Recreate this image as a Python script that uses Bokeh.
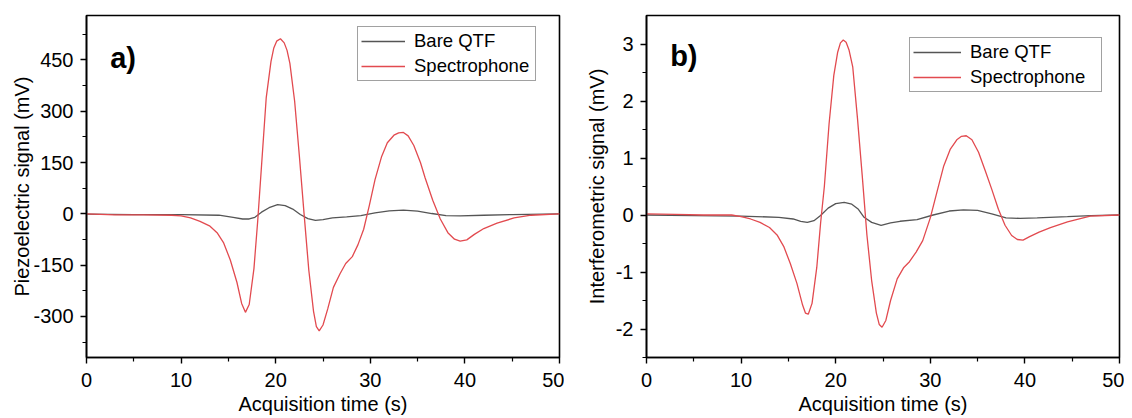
from bokeh.plotting import figure
from bokeh.models import Legend, LegendItem, FixedTicker, Label, Range1d, CustomJSTickFormatter
from bokeh.layouts import row
from bokeh.embed import file_html
from bokeh.resources import INLINE

# ---------------- data ----------------
# panel a) piezoelectric signal (mV)
a_spec_t = [0, 3, 6, 9, 10, 11, 12, 13, 13.8, 14.5, 15.2, 15.9, 16.4, 16.8, 17.2, 17.7,
            18.1, 18.5, 19.0, 19.5, 19.8, 20.1, 20.5, 20.9, 21.2, 21.5, 22.0, 22.5, 23.0,
            23.5, 24.0, 24.3, 24.6, 25.0, 25.5, 26.1, 26.8, 27.4, 28.1, 28.7, 29.3, 29.9,
            30.5, 31.2, 31.8, 32.5, 33.0, 33.5, 34.0, 34.6, 35.3, 35.8, 36.6, 37.4, 38.2,
            38.9, 39.5, 40.2, 41.0, 42.0, 43.4, 45.2, 47.0, 50]
a_spec_v = [0, -3, -3, -4, -6, -12, -22, -35, -55, -85, -135, -200, -262, -288, -265, -160,
            -20, 140, 340, 445, 485, 505, 512, 500, 478, 440, 330, 170, 0,
            -165, -285, -330, -342, -325, -278, -215, -175, -145, -125, -90, -45, 25,
            100, 168, 208, 230, 237, 238, 228, 200, 150, 105, 40, -15, -55,
            -74, -80, -76, -60, -43, -27, -12, -4, 0]
a_bare_t = [0, 5, 10, 14, 15.5, 16.5, 17.2, 17.8, 18.5, 19.3, 20.2, 21.0, 21.8, 22.6, 23.4,
            24.2, 25.0, 26.0, 27.5, 29.0, 30.5, 32.0, 33.5, 35.0, 36.5, 38.0, 39.5, 42.0,
            45.0, 50]
a_bare_v = [-1, -2, -2, -4, -10, -15, -15, -10, 5, 18, 27, 24, 14, -2, -14,
            -19, -17, -12, -9, -5, 3, 9, 11, 8, 1, -5, -6, -4, -2, 0]

# panel b) interferometric signal (mV)
b_spec_t = [0, 3, 6, 9, 10, 11, 12, 13, 13.8, 14.5, 15.2, 15.9, 16.5, 16.8, 17.1, 17.5,
            18.0, 18.4, 18.8, 19.3, 19.8, 20.2, 20.5, 20.8, 21.1, 21.4, 21.8, 22.3, 22.8,
            23.3, 23.8, 24.3, 24.6, 24.9, 25.3, 25.8, 26.5, 27.2, 27.8, 28.5, 29.2, 30.0,
            30.7, 31.4, 32.1, 32.8, 33.3, 33.8, 34.4, 35.1, 35.8, 36.5, 37.2, 37.9, 38.6,
            39.2, 39.8, 40.5, 41.5, 42.7, 44.5, 46.9, 50]
b_spec_v = [0.02, 0.01, 0.0, 0.0, -0.03, -0.07, -0.13, -0.22, -0.35, -0.55, -0.85, -1.2,
            -1.58, -1.72, -1.74, -1.55, -0.92, -0.15, 0.5, 1.6, 2.45, 2.85, 3.02, 3.07,
            3.03, 2.9, 2.6, 1.7, 0.7, -0.35, -1.15, -1.72, -1.92, -1.97, -1.85, -1.5,
            -1.12, -0.92, -0.82, -0.65, -0.45, -0.05, 0.4, 0.85, 1.15, 1.32, 1.38, 1.39,
            1.32, 1.1, 0.78, 0.45, 0.1, -0.18, -0.36, -0.43, -0.44, -0.38, -0.3, -0.22,
            -0.12, -0.02, 0.0]
b_bare_t = [0, 5, 10, 14, 15.5, 16.3, 17.0, 17.7, 18.4, 19.2, 20.0, 20.9, 21.7, 22.4, 23.0,
            23.8, 24.8, 25.8, 26.8, 28.6, 30.3, 32.0, 33.5, 35.0, 36.5, 38.0, 39.5, 41.3,
            44.5, 47, 50]
b_bare_v = [0.0, -0.01, -0.02, -0.04, -0.07, -0.11, -0.13, -0.1, -0.01, 0.12, 0.2, 0.22,
            0.19, 0.1, -0.04, -0.13, -0.18, -0.14, -0.11, -0.08, 0.0, 0.07, 0.09, 0.08,
            0.02, -0.05, -0.06, -0.05, -0.03, -0.01, 0.0]

x_major = [0, 10, 20, 30, 40, 50]
x_minor = [5, 15, 25, 35, 45]
a_y_major = [-300, -150, 0, 150, 300, 450]
a_y_minor = [-375, -225, -75, 75, 225, 375, 525]
b_y_major = [-2, -1, 0, 1, 2, 3]
b_y_minor = [-2.5, -1.5, -0.5, 0.5, 1.5, 2.5]

series_names = ["Bare QTF", "Spectrophone"]
FONT = "Liberation Sans"
GRAY = "#555555"
RED = "#e24a4f"


def panel(width, left, right, top, bottom, yr, ymaj, ymin, ylabel, tag, tag_y,
          bare_t, bare_v, spec_t, spec_v, leg_loc, leg_glyph, leg_labw, ylabel_standoff):
    p = figure(width=width, height=418, output_backend="svg", toolbar_location=None,
               x_range=Range1d(0, 50), y_range=Range1d(*yr),
               min_border_left=left, min_border_right=right,
               min_border_top=top, min_border_bottom=bottom)
    p.grid.visible = False
    p.outline_line_color = "black"
    p.outline_line_width = 1.6
    p.background_fill_color = "white"
    p.border_fill_color = "white"

    r1 = p.line(bare_t, bare_v, line_color=GRAY, line_width=1.3)
    r2 = p.line(spec_t, spec_v, line_color=RED, line_width=1.3)

    p.xaxis.ticker = FixedTicker(ticks=x_major, minor_ticks=x_minor)
    p.yaxis.ticker = FixedTicker(ticks=ymaj, minor_ticks=ymin)
    fmt = CustomJSTickFormatter(code="return tick.toString();")
    for ax in (p.xaxis[0], p.yaxis[0]):
        ax.formatter = fmt
        ax.axis_line_color = "black"
        ax.axis_line_width = 1.6
        ax.major_tick_line_color = "black"
        ax.minor_tick_line_color = "black"
        ax.major_tick_line_width = 1.4
        ax.minor_tick_line_width = 1.2
        ax.major_tick_in = 0
        ax.minor_tick_in = 0
        ax.major_tick_out = 6
        ax.minor_tick_out = 4
        ax.major_label_text_font = FONT
        ax.major_label_text_font_size = "20px"
        ax.major_label_text_color = "black"
        ax.axis_label_text_font = FONT
        ax.axis_label_text_font_size = "20px"
        ax.axis_label_text_font_style = "normal"
        ax.axis_label_text_color = "black"
    p.xaxis.axis_label = "Acquisition time (s)"
    p.xaxis.major_label_standoff = 9
    p.xaxis.axis_label_standoff = 3
    p.yaxis.axis_label = ylabel
    p.yaxis.major_label_standoff = 7
    p.yaxis.axis_label_standoff = ylabel_standoff

    p.add_layout(Label(x=2.5, y=tag_y, text=tag, text_font=FONT, text_font_size="29px",
                       text_font_style="bold", text_baseline="middle", text_color="black"))

    leg = Legend(items=[LegendItem(label=series_names[0], renderers=[r1]),
                        LegendItem(label=series_names[1], renderers=[r2])],
                 location=leg_loc)
    leg.label_text_font = FONT
    leg.label_text_font_size = "18.5px"
    leg.label_text_color = "black"
    leg.border_line_color = "#444444"
    leg.border_line_width = 1.2
    leg.background_fill_alpha = 1
    leg.padding = 3
    leg.margin = 0
    leg.spacing = 3
    leg.glyph_width = leg_glyph
    leg.glyph_height = 18
    leg.label_height = 18
    leg.label_width = leg_labw
    leg.label_standoff = 9
    p.add_layout(leg)
    return p


p1 = panel(564, 86, 5, 12, 59, (-420, 580), a_y_major, a_y_minor, "Piezoelectric signal (mV)",
           "a)", 456, a_bare_t, a_bare_v, a_spec_t, a_spec_v, (271, 276), 44, 118, -3)
p2 = panel(560, 82, 5, 15, 61, (-2.5, 3.5), b_y_major, b_y_minor, "Interferometric signal (mV)",
           "b)", 2.79, b_bare_t, b_bare_v, b_spec_t, b_spec_v, (263, 265), 48, 128, 5)

layout = row(p1, p2)
open("out.html", "w").write(file_html(layout, INLINE))
